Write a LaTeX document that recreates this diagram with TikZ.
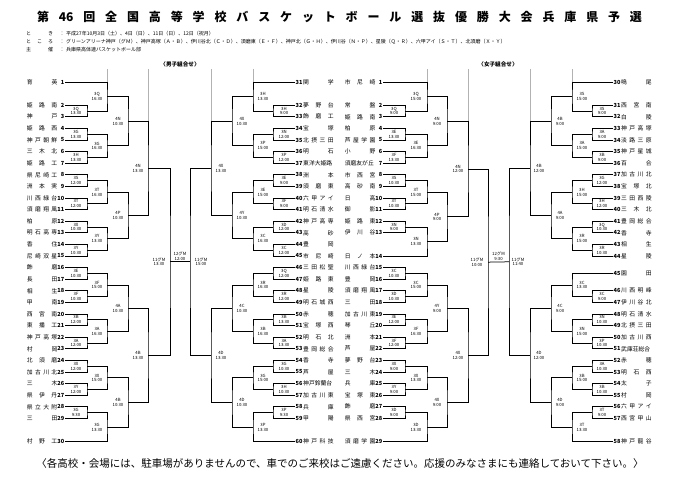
\documentclass[tikz,border=0pt]{standalone}
\usepackage{fontspec}
\setmainfont{Noto Sans CJK JP}
\usetikzlibrary{calc}
\tikzset{
  br/.style={line width=0.75pt, black},
  lab/.style={font=\fontsize{4.3}{4.7}\selectfont, align=center, inner sep=0pt},
  nmbox/.style={font=\fontsize{5.8}{5.8}\selectfont, inner sep=0pt},
  numb/.style={font=\fontsize{5.6}{5.6}\selectfont\bfseries, inner sep=0.5pt},
  guide/.style={line width=0.4pt, gray!60},
  info/.style={font=\fontsize{5}{5}\selectfont, inner sep=0pt},
  sect/.style={font=\fontsize{5.6}{5.6}\selectfont\bfseries, inner sep=0pt},
}
\newcommand\tmL[5]{%
  \coordinate (#1) at (#2,{82+11.6*#3});
  \node[numb, anchor=east] (n#1) at (#1) {#4};
  \node[nmbox, anchor=east] (t#1) at ([xshift=-7.5pt]#1) {\makebox[30.5pt][s]{#5}};
}
\newcommand\tmR[5]{%
  \coordinate (#1) at (#2,{82+11.6*#3});
  \node[numb, anchor=west] (n#1) at (#1) {#4};
  \node[nmbox, anchor=west] (t#1) at ([xshift=8pt]#1) {\makebox[30.5pt][s]{#5}};
}
\newcommand\game[6]{%
  \path let \p1=($(#3)!.5!(#4)$) in (#2pt,\y1) coordinate (#1);
  \draw[br] (#3) -| (#1) |- (#4);
  \node[lab] (l#1) at ([xshift=#6pt]#1) {#5};
}
\begin{document}
\begin{tikzpicture}[x=1pt,y=-1pt]
\useasboundingbox (0,0) rectangle (680,481);
\fill[white] (0,0) rectangle (680,481);

% header
\node[font=\fontsize{12}{12}\selectfont\bfseries, inner sep=0pt] (title) at (339.5,17)
  {\makebox[605pt][s]{第 46 回 全 国 高 等 学 校 バ ス ケ ッ ト ボ ー ル 選 抜 優 勝 大 会 兵 庫 県 予 選}};
\node[info, anchor=west] (k1) at (26,34) {\makebox[27pt][s]{と き}};
\node[info] (c1) at (62,34) {：};
\node[info, anchor=west] (v1) at (66,34) {平成27年10月3日（土）、4日（日）、11日（日）、12日（祝月）};
\node[info, anchor=west] (k2) at (26,42) {\makebox[27pt][s]{と こ ろ}};
\node[info] (c2) at (62,42) {：};
\node[info, anchor=west] (v2) at (66,42) {グリーンアリーナ神戸（グＭ）、神戸高塚（Ａ・Ｂ）、伊川谷北（Ｃ・Ｄ）、須磨東（Ｅ・Ｆ）、神戸北（Ｇ・Ｈ）、伊川谷（Ｎ・Ｐ）、星陵（Ｑ・Ｒ）、六甲アイ（Ｓ・Ｔ）、北須磨（Ｘ・Ｙ）};
\node[info, anchor=west] (k3) at (26,50) {\makebox[27pt][s]{主 催}};
\node[info] (c3) at (62,50) {：};
\node[info, anchor=west] (v3) at (66,50) {兵庫県高体連バスケットボール部};
\node[sect] (smen) at (180,64) {〈男子組合せ〉};
\node[sect] (swom) at (498,64) {〈女子組合せ〉};

% ===== men left =====
\tmL{m1}{65}{0}{1}{育 英}
\tmL{m2}{65}{2}{2}{姫 路 南}
\tmL{m3}{65}{3}{3}{神 戸}
\tmL{m4}{65}{4}{4}{姫 路 西}
\tmL{m5}{65}{5}{5}{神 戸 朝 鮮}
\tmL{m6}{65}{6}{6}{三 木 北}
\tmL{m7}{65}{7}{7}{姫 路 工}
\tmL{m8}{65}{8}{8}{県 尼 崎 工}
\tmL{m9}{65}{9}{9}{洲 本 実}
\tmL{m10}{65}{10}{10}{川 西 緑 台}
\tmL{m11}{65}{11}{11}{須 磨 翔 風}
\tmL{m12}{65}{12}{12}{柏 原}
\tmL{m13}{65}{13}{13}{明 石 高 専}
\tmL{m14}{65}{14}{14}{香 住}
\tmL{m15}{65}{15}{15}{尼 崎 双 星}
\tmL{m16}{65}{16}{16}{飾 磨}
\tmL{m17}{65}{17}{17}{長 田}
\tmL{m18}{65}{18}{18}{相 生}
\tmL{m19}{65}{19}{19}{甲 南}
\tmL{m20}{65}{20}{20}{西 宮 南}
\tmL{m21}{65}{21}{21}{東 播 工}
\tmL{m22}{65}{22}{22}{神 戸 高 塚}
\tmL{m23}{65}{23}{23}{村 岡}
\tmL{m24}{65}{24}{24}{北 須 磨}
\tmL{m25}{65}{25}{25}{加 古 川 北}
\tmL{m26}{65}{26}{26}{三 木}
\tmL{m27}{65}{27}{27}{県 伊 丹}
\tmL{m28}{65}{28}{28}{県 立 大 附}
\tmL{m29}{65}{29}{29}{三 田}
\tmL{m30}{65}{31}{30}{村 野 工}

\game{ma23}{87}{m2}{m3}{3Q\\13:30}{-11}
\game{ma45}{87}{m4}{m5}{3G\\13:30}{-11}
\game{ma67}{87}{m6}{m7}{3H\\13:30}{-11}
\game{ma89}{87}{m8}{m9}{3S\\12:00}{-11}
\game{ma1011}{87}{m10}{m11}{3T\\12:00}{-11}
\game{ma1213}{87}{m12}{m13}{3X\\10:30}{-11}
\game{ma1415}{87}{m14}{m15}{3Y\\10:30}{-11}
\game{ma1617}{87}{m16}{m17}{3E\\10:30}{-11}
\game{ma1819}{87}{m18}{m19}{3F\\10:30}{-11}
\game{ma2021}{87}{m20}{m21}{3B\\12:00}{-11}
\game{ma2223}{87}{m22}{m23}{3A\\12:00}{-11}
\game{ma2425}{87}{m24}{m25}{3X\\12:00}{-11}
\game{ma2627}{87}{m26}{m27}{3Y\\12:00}{-11}
\game{ma2829}{87}{m28}{m29}{3G\\9:30}{-11}
\game{mb1}{107}{m1}{ma23}{3Q\\16:30}{-10}
\game{mb2}{107}{ma45}{ma67}{3G\\16:30}{-10}
\game{mb3}{107}{ma89}{ma1011}{3T\\16:30}{-10}
\game{mb4}{107}{ma1213}{ma1415}{3Y\\13:30}{-10}
\game{mb5}{107}{ma1617}{ma1819}{3F\\15:00}{-10}
\game{mb6}{107}{ma2021}{ma2223}{3A\\16:30}{-10}
\game{mb7}{107}{ma2425}{ma2627}{3X\\15:00}{-10}
\game{mb8}{107}{ma2829}{m30}{3G\\13:30}{-10}
\game{mc1}{128}{mb1}{mb2}{4N\\10:30}{-10}
\game{mc2}{128}{mb3}{mb4}{4P\\10:30}{-10}
\game{mc3}{128}{mb5}{mb6}{4A\\10:30}{-10}
\game{mc4}{128}{mb7}{mb8}{4B\\10:30}{-10}
\game{md1}{148}{mc1}{mc2}{4N\\13:30}{-10}
\game{md2}{148}{mc3}{mc4}{4B\\13:30}{-10}
\game{me1}{170}{md1}{md2}{11グM\\13:30}{-11}

% ===== men right =====
\tmR{m31}{295}{0}{31}{関 学}
\tmR{m32}{295}{2}{32}{夢 野 台}
\tmR{m33}{295}{3}{33}{飾 磨 工}
\tmR{m34}{295}{4}{34}{宝 塚}
\tmR{m35}{295}{5}{35}{北 摂 三 田}
\tmR{m36}{295}{6}{36}{明 石}
\tmR{m37}{295}{7}{37}{東洋大姫路}
\tmR{m38}{295}{8}{38}{洲 本}
\tmR{m39}{295}{9}{39}{須 磨 東}
\tmR{m40}{295}{10}{40}{六 甲 ア イ}
\tmR{m41}{295}{11}{41}{明 石 清 水}
\tmR{m42}{295}{12}{42}{神 戸 高 専}
\tmR{m43}{295}{13}{43}{高 砂}
\tmR{m44}{295}{14}{44}{豊 岡}
\tmR{m45}{295}{15}{45}{市 尼 崎}
\tmR{m46}{295}{16}{46}{三 田 松 聖}
\tmR{m47}{295}{17}{47}{姫 路 東}
\tmR{m48}{295}{18}{48}{星 陵}
\tmR{m49}{295}{19}{49}{明 石 城 西}
\tmR{m50}{295}{20}{50}{赤 穂}
\tmR{m51}{295}{21}{51}{宝 塚 西}
\tmR{m52}{295}{22}{52}{明 石 北}
\tmR{m53}{295}{23}{53}{豊 岡 総 合}
\tmR{m54}{295}{24}{54}{香 寺}
\tmR{m55}{295}{25}{55}{芦 屋}
\tmR{m56}{295}{26}{56}{神戸鈴蘭台}
\tmR{m57}{295}{27}{57}{加 古 川 東}
\tmR{m58}{295}{28}{58}{兵 庫}
\tmR{m59}{295}{29}{59}{甲 陽}
\tmR{m60}{295}{31}{60}{神 戸 科 技}

\game{ma3233}{273}{m32}{m33}{3H\\9:00}{11}
\game{ma3435}{273}{m34}{m35}{3N\\12:00}{11}
\game{ma3637}{273}{m36}{m37}{3P\\12:00}{11}
\game{ma3839}{273}{m38}{m39}{3E\\9:00}{11}
\game{ma4041}{273}{m40}{m41}{3F\\9:00}{11}
\game{ma4243}{273}{m42}{m43}{3D\\12:00}{11}
\game{ma4445}{273}{m44}{m45}{3C\\12:00}{11}
\game{ma4647}{273}{m46}{m47}{3Q\\12:00}{11}
\game{ma4849}{273}{m48}{m49}{3R\\12:00}{11}
\game{ma5051}{273}{m50}{m51}{3B\\13:30}{11}
\game{ma5253}{273}{m52}{m53}{3A\\13:30}{11}
\game{ma5455}{273}{m54}{m55}{3G\\10:30}{11}
\game{ma5657}{273}{m56}{m57}{3H\\10:30}{11}
\game{ma5859}{273}{m58}{m59}{3P\\9:30}{11}
\game{mb9}{253}{m31}{ma3233}{3H\\13:30}{10}
\game{mb10}{253}{ma3435}{ma3637}{3P\\15:00}{10}
\game{mb11}{253}{ma3839}{ma4041}{3E\\15:00}{10}
\game{mb12}{253}{ma4243}{ma4445}{3C\\16:30}{10}
\game{mb13}{253}{ma4647}{ma4849}{3R\\16:30}{10}
\game{mb14}{253}{ma5051}{ma5253}{3B\\16:30}{10}
\game{mb15}{253}{ma5455}{ma5657}{3G\\15:00}{10}
\game{mb16}{253}{ma5859}{m60}{3P\\13:30}{10}
\game{mc5}{232}{mb9}{mb10}{4X\\10:30}{10}
\game{mc6}{232}{mb11}{mb12}{4Y\\10:30}{10}
\game{mc7}{232}{mb13}{mb14}{4C\\10:30}{10}
\game{mc8}{232}{mb15}{mb16}{4D\\10:30}{10}
\game{md3}{211}{mc5}{mc6}{4X\\13:30}{10}
\game{md4}{211}{mc7}{mc8}{4D\\13:30}{10}
\game{me2}{190}{md3}{md4}{11グM\\15:00}{11}
\draw[br] (me1) -- (me2);
\node[lab, anchor=south, yshift=1.5pt] (mfin) at ($(me1)!.5!(me2)$) {12グM\\12:00};

% ===== women left =====
\tmL{w1}{383}{0}{1}{市 尼 崎}
\tmL{w2}{383}{2}{2}{常 盤}
\tmL{w3}{383}{3}{3}{姫 路 南}
\tmL{w4}{383}{4}{4}{柏 原}
\tmL{w5}{383}{5}{5}{芦 屋 学 園}
\tmL{w6}{383}{6}{6}{小 野}
\tmL{w7}{383}{7}{7}{須磨友が丘}
\tmL{w8}{383}{8}{8}{市 西 宮}
\tmL{w9}{383}{9}{9}{高 砂 南}
\tmL{w10}{383}{10}{10}{日 高}
\tmL{w11}{383}{11}{11}{御 影}
\tmL{w12}{383}{12}{12}{姫 路 東}
\tmL{w13}{383}{13}{13}{伊 川 谷}
\tmL{w14}{383}{15}{14}{日 ノ 本}
\tmL{w15}{383}{16}{15}{川 西 緑 台}
\tmL{w16}{383}{17}{16}{豊 岡}
\tmL{w17}{383}{18}{17}{須 磨 翔 風}
\tmL{w18}{383}{19}{18}{三 田}
\tmL{w19}{383}{20}{19}{加 古 川 東}
\tmL{w20}{383}{21}{20}{琴 丘}
\tmL{w21}{383}{22}{21}{洲 本}
\tmL{w22}{383}{23}{22}{芦 屋}
\tmL{w23}{383}{24}{23}{夢 野 台}
\tmL{w24}{383}{25}{24}{三 木}
\tmL{w25}{383}{26}{25}{兵 庫}
\tmL{w26}{383}{27}{26}{宝 塚 東}
\tmL{w27}{383}{28}{27}{飾 磨}
\tmL{w28}{383}{29}{28}{県 西 宮}
\tmL{w29}{383}{31}{29}{須 磨 学 園}

\game{wa23}{405}{w2}{w3}{3Q\\9:00}{-11}
\game{wa45}{405}{w4}{w5}{3E\\13:30}{-11}
\game{wa67}{405}{w6}{w7}{3F\\13:30}{-11}
\game{wa89}{405}{w8}{w9}{3S\\10:30}{-11}
\game{wa1011}{405}{w10}{w11}{3T\\10:30}{-11}
\game{wa1213}{405}{w12}{w13}{3N\\9:00}{-11}
\game{wa1516}{405}{w15}{w16}{3C\\10:30}{-11}
\game{wa1718}{405}{w17}{w18}{3D\\10:30}{-11}
\game{wa1920}{405}{w19}{w20}{3E\\12:00}{-11}
\game{wa2122}{405}{w21}{w22}{3F\\12:00}{-11}
\game{wa2324}{405}{w23}{w24}{3X\\9:00}{-11}
\game{wa2526}{405}{w25}{w26}{3Y\\9:00}{-11}
\game{wa2728}{405}{w27}{w28}{3D\\9:00}{-11}
\game{wb1}{427}{w1}{wa23}{3Q\\15:00}{-11}
\game{wb2}{427}{wa45}{wa67}{3E\\16:30}{-11}
\game{wb3}{427}{wa89}{wa1011}{3T\\15:00}{-11}
\game{wb4}{427}{wa1213}{w14}{3N\\13:30}{-11}
\game{wb5}{427}{wa1516}{wa1718}{3C\\15:00}{-11}
\game{wb6}{427}{wa1920}{wa2122}{3F\\16:30}{-11}
\game{wb7}{427}{wa2324}{wa2526}{3X\\13:30}{-11}
\game{wb8}{427}{wa2728}{w29}{3D\\13:30}{-11}
\game{wc1}{447}{wb1}{wb2}{4N\\9:00}{-10}
\game{wc2}{447}{wb3}{wb4}{4P\\9:00}{-10}
\game{wc3}{447}{wb5}{wb6}{4Y\\9:00}{-10}
\game{wc4}{447}{wb7}{wb8}{4X\\9:00}{-10}
\game{wd1}{468}{wc1}{wc2}{4N\\12:00}{-10}
\game{wd2}{468}{wc3}{wc4}{4X\\12:00}{-10}
\game{we1}{488}{wd1}{wd2}{11グM\\10:00}{-11}

% ===== women right =====
\tmR{w30}{613}{0}{30}{鳴 尾}
\tmR{w31}{613}{2}{31}{西 宮 南}
\tmR{w32}{613}{3}{32}{白 陵}
\tmR{w33}{613}{4}{33}{神 戸 高 塚}
\tmR{w34}{613}{5}{34}{淡 路 三 原}
\tmR{w35}{613}{6}{35}{神 戸 星 城}
\tmR{w36}{613}{7}{36}{百 合}
\tmR{w37}{613}{8}{37}{加 古 川 北}
\tmR{w38}{613}{9}{38}{宝 塚 北}
\tmR{w39}{613}{10}{39}{三 田 西 陵}
\tmR{w40}{613}{11}{40}{三 木 北}
\tmR{w41}{613}{12}{41}{豊 岡 総 合}
\tmR{w42}{613}{13}{42}{香 寺}
\tmR{w43}{613}{14}{43}{相 生}
\tmR{w44}{613}{15}{44}{星 陵}
\tmR{w45}{613}{16.5}{45}{園 田}
\tmR{w46}{613}{18}{46}{川 西 明 峰}
\tmR{w47}{613}{19}{47}{伊 川 谷 北}
\tmR{w48}{613}{20}{48}{明 石 清 水}
\tmR{w49}{613}{21}{49}{北 摂 三 田}
\tmR{w50}{613}{22}{50}{加 古 川 西}
\tmR{w51}{613}{23}{51}{武庫荘総合}
\tmR{w52}{613}{24}{52}{赤 穂}
\tmR{w53}{613}{25}{53}{明 石 西}
\tmR{w54}{613}{26}{54}{太 子}
\tmR{w55}{613}{27}{55}{村 岡}
\tmR{w56}{613}{28}{56}{六 甲 ア イ}
\tmR{w57}{613}{29}{57}{西 宮 甲 山}
\tmR{w58}{613}{31}{58}{神 戸 龍 谷}

\game{wa3132}{592}{w31}{w32}{3S\\9:00}{10}
\game{wa3334}{592}{w33}{w34}{3A\\9:00}{10}
\game{wa3536}{592}{w35}{w36}{3B\\9:00}{10}
\game{wa3738}{592}{w37}{w38}{3G\\12:00}{10}
\game{wa3940}{592}{w39}{w40}{3H\\12:00}{10}
\game{wa4142}{592}{w41}{w42}{3Q\\10:30}{10}
\game{wa4344}{592}{w43}{w44}{3R\\10:30}{10}
\game{wa4647}{592}{w46}{w47}{3C\\9:00}{10}
\game{wa4849}{592}{w48}{w49}{3N\\10:30}{10}
\game{wa5051}{592}{w50}{w51}{3P\\10:30}{10}
\game{wa5253}{592}{w52}{w53}{3A\\10:30}{10}
\game{wa5455}{592}{w54}{w55}{3B\\10:30}{10}
\game{wa5657}{592}{w56}{w57}{3T\\9:00}{10}
\game{wb9}{572}{w30}{wa3132}{3S\\15:00}{10}
\game{wb10}{572}{wa3334}{wa3536}{3A\\15:00}{10}
\game{wb11}{572}{wa3738}{wa3940}{3H\\15:00}{10}
\game{wb12}{572}{wa4142}{wa4344}{3R\\15:00}{10}
\game{wb13}{572}{w45}{wa4647}{3C\\13:30}{10}
\game{wb14}{572}{wa4849}{wa5051}{3N\\15:00}{10}
\game{wb15}{572}{wa5253}{wa5455}{3B\\15:00}{10}
\game{wb16}{572}{wa5657}{w58}{3T\\13:30}{10}
\game{wc5}{551}{wb9}{wb10}{4B\\9:00}{9}
\game{wc6}{551}{wb11}{wb12}{4A\\9:00}{9}
\game{wc7}{551}{wb13}{wb14}{4C\\9:00}{9}
\game{wc8}{551}{wb15}{wb16}{4D\\9:00}{9}
\game{wd3}{530}{wc5}{wc6}{4B\\12:00}{9}
\game{wd4}{530}{wc7}{wc8}{4D\\12:00}{9}
\game{we2}{509}{wd3}{wd4}{11グM\\11:40}{9}
\draw[br] (we1) -- (we2);
\node[lab, anchor=south, yshift=1.5pt] (wfin) at ($(we1)!.5!(we2)$) {12グM\\9:30};

% guide lines
\coordinate (g1) at (107,69); \draw[guide] (g1) -- (g1 |- m1);
\coordinate (g2) at (148,69); \draw[guide] (g2) -- (g2 |- mc1);
\coordinate (g3) at (253,69); \draw[guide] (g3) -- (g3 |- m31);
\coordinate (g4) at (211,69); \draw[guide] (g4) -- (g4 |- mc5);
\coordinate (g5) at (427,69); \draw[guide] (g5) -- (g5 |- w1);
\coordinate (g6) at (468,69); \draw[guide] (g6) -- (g6 |- wc1);
\coordinate (g7) at (572,69); \draw[guide] (g7) -- (g7 |- w30);
\coordinate (g8) at (530,69); \draw[guide] (g8) -- (g8 |- wc5);

% footer
\node[font=\fontsize{10.5}{10.5}\selectfont, inner sep=0pt] (foot) at (340,463)
  {〈各高校・会場には、駐車場がありませんので、車でのご来校はご遠慮ください。応援のみなさまにも連絡しておいて下さい。〉};
\end{tikzpicture}
\end{document}
